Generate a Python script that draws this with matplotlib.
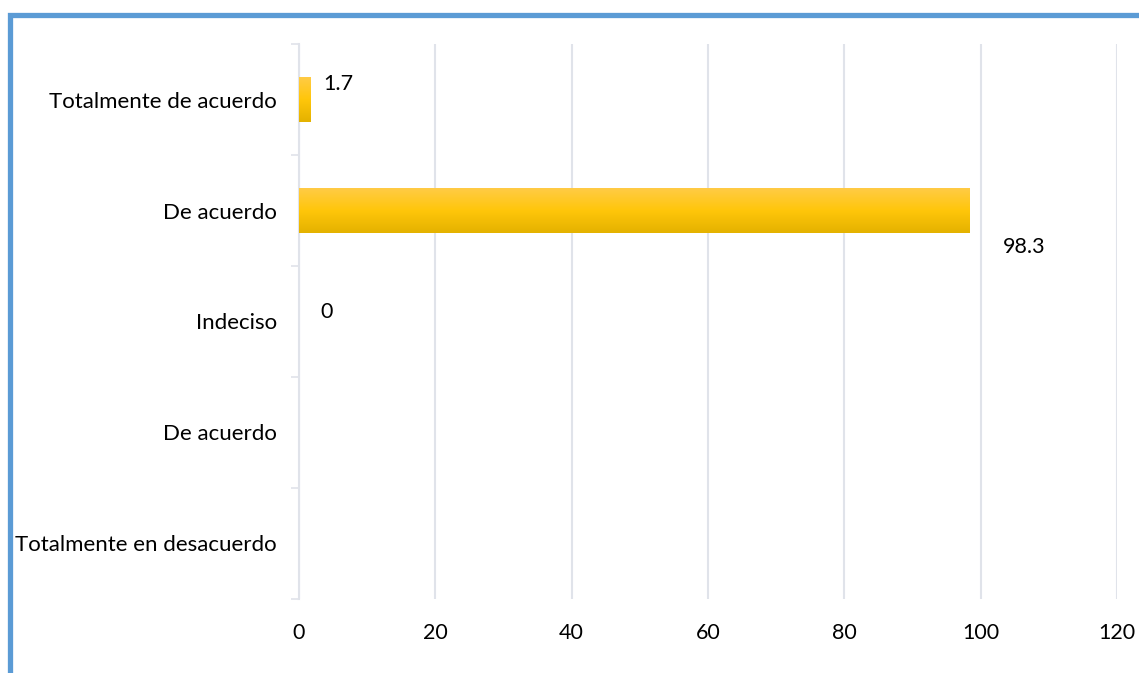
import numpy as np
import matplotlib
matplotlib.use('Agg')
import matplotlib.pyplot as plt
from matplotlib.patches import Rectangle
from matplotlib.colors import LinearSegmentedColormap

categories = ['Totalmente en desacuerdo', 'De acuerdo', 'Indeciso', 'De acuerdo', 'Totalmente de acuerdo']
values = [0, 0, 0, 98.3, 1.7]
labels = [None, None, '0', '98.3', '1.7']
label_offsets = [None, None, (20, 7), (40, -26), (20, 11)]
x_ticks = [0, 20, 40, 60, 80, 100, 120]

plt.rcParams['font.family'] = ['Lato', 'DejaVu Sans']

fig = plt.figure(figsize=(11.39, 6.73), dpi=100)
ax = fig.add_axes([0.2625, 0.110, 0.7182, 0.8246])

grid_col = '#E0E3EA'
pos = np.arange(len(categories))
bars = ax.barh(pos, values, height=0.4, color='#FFC60A', zorder=2)

# vertical gold gradient over each bar
grad = LinearSegmentedColormap.from_list('gold', ['#E4B200', '#FFC60A', '#FFCB45'])
img = np.linspace(0, 1, 100).reshape(-1, 1)
for b in bars:
    if b.get_width() <= 0:
        continue
    x0, y0 = b.get_x(), b.get_y()
    w, h = b.get_width(), b.get_height()
    ax.imshow(img, cmap=grad, aspect='auto', origin='lower',
              extent=(x0, x0 + w, y0, y0 + h), zorder=3)

for b, lab, off in zip(bars, labels, label_offsets):
    if lab is None:
        continue
    ax.annotate(lab, (b.get_width(), b.get_y() + b.get_height() / 2),
                xytext=off, textcoords='offset points',
                ha='center', va='center', fontsize=15.5, color='#000000')

ax.set_xlim(0, 120)
ax.set_ylim(-0.5, len(categories) - 0.5)
ax.set_xticks(x_ticks)
ax.set_yticks(pos)
ax.set_yticklabels(categories, fontsize=16)
ax.tick_params(axis='x', length=0, pad=17, labelsize=15.5)
ax.tick_params(axis='y', which='major', length=0, pad=16)
ax.set_yticks(np.arange(-0.5, len(categories), 1), minor=True)
ax.tick_params(axis='y', which='minor', length=6, width=1.2, color=grid_col)
ax.grid(axis='x', color=grid_col, linewidth=1.5, zorder=0)
ax.set_axisbelow(True)
for s in ['top', 'right', 'bottom']:
    ax.spines[s].set_visible(False)
ax.spines['left'].set_color(grid_col)
ax.spines['left'].set_linewidth(1.5)

# blue frame (left and top edges visible)
W, H = 1139, 673
fig.patches.append(Rectangle((9.5 / W, -0.2), 1.5, 1.2 - 14.5 / H, transform=fig.transFigure,
                             fill=False, edgecolor='#5B9BD5', linewidth=3.8))

fig.savefig('out.png', dpi=100)
